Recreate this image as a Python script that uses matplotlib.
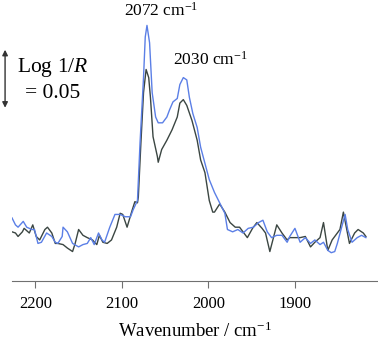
import numpy as np
import matplotlib
matplotlib.use('Agg')
import matplotlib.pyplot as plt

plt.rcParams['font.family'] = ['Liberation Serif', 'DejaVu Serif']
plt.rcParams['mathtext.fontset'] = 'custom'
plt.rcParams['mathtext.rm'] = 'Liberation Serif'
plt.rcParams['mathtext.it'] = 'Liberation Serif:italic'

# wavenumber (cm-1) and Log 1/R
blue_wn = [2227, 2223, 2220, 2214, 2210, 2204, 2201, 2197, 2193, 2187, 2181, 2177, 2174, 2169,
           2168, 2163, 2157, 2150, 2145, 2140, 2136, 2132, 2127, 2123, 2120, 2114, 2108, 2102,
           2096, 2090, 2087, 2082, 2079, 2075, 2073, 2071, 2068, 2065, 2061, 2058, 2053, 2048,
           2045, 2041, 2036, 2033, 2029, 2025, 2022, 2018, 2013, 2009, 2004, 1999, 1993, 1987,
           1981, 1978, 1972, 1966, 1960, 1954, 1948, 1942, 1937, 1932, 1927, 1921, 1915, 1909,
           1906, 1900, 1894, 1888, 1882, 1877, 1871, 1867, 1862, 1858, 1854, 1851, 1846, 1842,
           1839, 1834, 1828, 1823, 1818]
blue_val = [0.013, 0.007, 0.005, 0.010, 0.005, 0.003, 0.003, -0.009, -0.008, 0.000, -0.003, -0.008,
            -0.009, -0.003, 0.005, 0.001, -0.009, -0.012, -0.010, -0.009, -0.004, -0.010, 0.000,
            -0.006, -0.008, 0.005, 0.016, 0.016, 0.014, 0.014, 0.020, 0.028, 0.078, 0.134, 0.169,
            0.179, 0.164, 0.121, 0.100, 0.095, 0.095, 0.100, 0.106, 0.113, 0.116, 0.128, 0.134,
            0.132, 0.117, 0.103, 0.091, 0.074, 0.060, 0.046, 0.035, 0.026, 0.017, 0.003, 0.001,
            0.003, 0.000, 0.004, 0.005, 0.009, 0.011, 0.001, -0.004, -0.002, -0.002, -0.008,
            -0.003, 0.004, -0.008, -0.004, -0.009, -0.006, -0.010, -0.008, -0.015, -0.017, -0.016,
            -0.009, 0.005, 0.016, 0.003, -0.008, -0.004, -0.002, -0.004]

black_wn = [2227, 2223, 2220, 2215, 2213, 2207, 2203, 2199, 2195, 2189, 2186, 2181, 2177, 2174,
            2168, 2163, 2157, 2154, 2150, 2145, 2140, 2134, 2129, 2126, 2122, 2117, 2112, 2106,
            2102, 2099, 2094, 2088, 2085, 2082, 2081, 2078, 2075, 2072, 2069, 2067, 2064, 2059,
            2058, 2054, 2048, 2042, 2036, 2033, 2029, 2025, 2019, 2013, 2009, 2004, 1999, 1995,
            1993, 1987, 1981, 1975, 1969, 1964, 1955, 1949, 1944, 1938, 1934, 1929, 1921, 1915,
            1909, 1906, 1900, 1894, 1888, 1882, 1877, 1871, 1867, 1862, 1857, 1848, 1844, 1837,
            1831, 1827, 1821, 1818]
black_val = [0.001, 0.000, -0.003, 0.001, 0.004, 0.000, 0.007, -0.003, -0.006, 0.003, 0.005, 0.000,
             -0.009, -0.009, -0.010, -0.013, -0.016, -0.009, 0.003, -0.002, -0.004, -0.006, -0.010,
             -0.002, -0.008, -0.009, -0.006, 0.005, 0.017, 0.016, 0.005, 0.020, 0.027, 0.026, 0.031,
             0.078, 0.121, 0.141, 0.134, 0.117, 0.083, 0.066, 0.061, 0.072, 0.080, 0.089, 0.100,
             0.112, 0.115, 0.110, 0.097, 0.080, 0.063, 0.052, 0.028, 0.018, 0.018, 0.025, 0.018,
             0.009, 0.005, 0.005, -0.004, 0.004, 0.009, 0.004, 0.000, -0.016, 0.007, 0.000, -0.006,
             -0.004, -0.004, -0.004, -0.003, -0.012, -0.008, -0.004, 0.009, -0.015, -0.006, 0.003,
             0.018, -0.009, 0.000, 0.003, 0.000, -0.003]

tick_wn = [2200, 2100, 2000, 1900]
peak_labels = [(2055, 0.192, '2072 cm$^{\\mathregular{-1}}$'),
               (1998, 0.149, '2030 cm$^{\\mathregular{-1}}$')]

fig = plt.figure(figsize=(3.78, 3.42), dpi=100)
ax = fig.add_axes([12 / 378, 61 / 342, 1 - 12 / 378, 1 - 61 / 342])

ax.plot(black_wn, black_val, color='#3b4642', lw=1.0)
ax.plot(blue_wn, blue_val, color='#5b7fe6', lw=1.0)

ax.set_xlim(2227, 1804)
ax.set_ylim(-0.0414, 0.2009)

for s in ['top', 'right', 'left']:
    ax.spines[s].set_visible(False)
ax.spines['bottom'].set_color('#707070')
ax.set_yticks([])
ax.set_xticks(tick_wn)
ax.tick_params(axis='x', direction='out', length=5, color='#707070', labelsize=12, pad=6)
ax.set_xlabel('Wavenumber / cm$^{\\mathregular{-1}}$', fontsize=13.5, labelpad=7)

for wn, v, txt in peak_labels:
    ax.text(wn, v, txt, ha='center', va='center', fontsize=12.5, clip_on=False)

# scale bar
ax.annotate('', xy=(2235, 0.108), xytext=(2235, 0.158),
            arrowprops=dict(arrowstyle='<|-|>', color='#333333', lw=1.0,
                            mutation_scale=8, shrinkA=0, shrinkB=0),
            annotation_clip=False)
ax.text(2180, 0.143, 'Log 1/$R$', ha='center', va='center', fontsize=15.5)
ax.text(2180, 0.120, '= 0.05', ha='center', va='center', fontsize=15.5)

fig.savefig('out.png', dpi=100)
